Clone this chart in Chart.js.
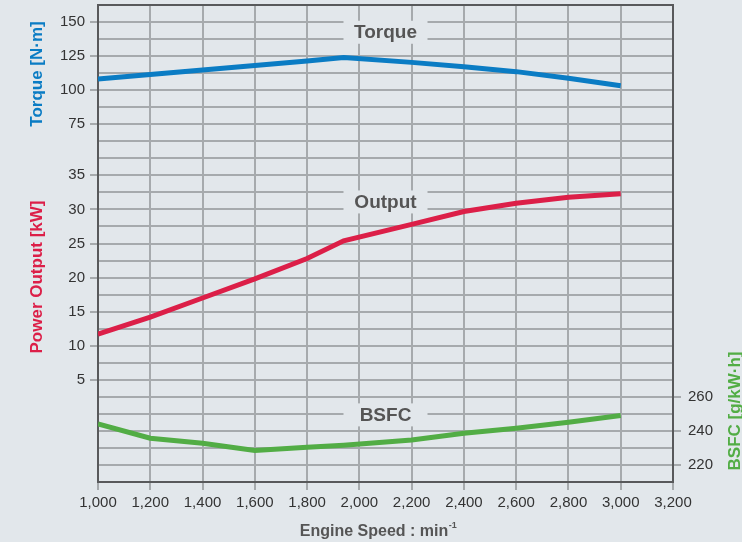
<!DOCTYPE html>
<html>
<head>
<meta charset="utf-8">
<script src="https://cdn.jsdelivr.net/npm/chart.js@4.4.1/dist/chart.umd.min.js"></script>
<style>
  html, body { margin: 0; padding: 0; background: #e2e7eb; }
  canvas { display: block; }
</style>
</head>
<body>
<canvas id="engineChart" width="742" height="542"></canvas>
<script>
// engine speed [min-1]
const speeds = [1000, 1200, 1400, 1600, 1800, 1940, 2200, 2400, 2600, 2800, 3000];
// torque [N·m]
const torque = [108.2, 111.5, 114.8, 118.1, 121.4, 123.9, 120.4, 117.2, 113.6, 108.7, 103.3];
// power output [kW]
const power = [11.7, 14.2, 17.0, 19.8, 22.8, 25.4, 27.8, 29.7, 30.9, 31.8, 32.3];
// BSFC [g/kW·h]
const bsfc = [244.1, 235.7, 232.8, 228.5, 230.4, 231.6, 234.7, 238.6, 241.6, 245.1, 249.0];

const torqueTicks = [150, 125, 100, 75];
const powerTicks = [35, 30, 25, 20, 15, 10, 5];
const bsfcTicks = [260, 240, 220];

// axis ranges, all three share the same 28-row grid
const torqueRange = [-187.5, 162.5];
const powerRange = [-10, 60];
const bsfcRange = [210, 490];

const bg = '#e2e7eb';
const gridColor = '#a6aaad';
const frameColor = '#58595b';
const tickText = '#333333';
const blue = '#0a7cc4', red = '#dc1f48', green = '#52ad45';
const font = '"Liberation Sans", Arial, sans-serif';

// labels sitting on the curves
const tagSpeed = 2100;
const curveTags = [
  { text: 'Torque', axis: 'yT', value: 142.5 },
  { text: 'Output', axis: 'yP', value: 31.1 },
  { text: 'BSFC', axis: 'yB', value: 249.4 }
];

// power value that sits on the same grid row as a torque tick
const torqueToPower = v =>
  powerRange[0] + (v - torqueRange[0]) * (powerRange[1] - powerRange[0]) / (torqueRange[1] - torqueRange[0]);
const near = (a, b) => Math.abs(a - b) < 1e-6;
const leftLabel = v => {
  if (torqueTicks.some(t => near(t, v))) return String(v);
  const p = torqueToPower(v);
  const hit = powerTicks.find(t => near(t, p));
  return hit !== undefined ? String(hit) : '';
};

const zeroPad = s => { s.paddingTop = 0; s.paddingBottom = 0; s.paddingLeft = 0; s.paddingRight = 0; };

const decor = {
  id: 'decor',
  beforeDatasetsDraw(chart) {
    const { ctx, chartArea: a, scales } = chart;
    ctx.save();
    ctx.strokeStyle = frameColor;
    ctx.lineWidth = 2;
    ctx.strokeRect(a.left, a.top, a.right - a.left, a.bottom - a.top);

    ctx.font = 'bold 19px ' + font;
    ctx.textAlign = 'center';
    ctx.textBaseline = 'middle';
    curveTags.forEach(t => {
      const x = scales.x.getPixelForValue(tagSpeed);
      const y = scales[t.axis].getPixelForValue(t.value);
      ctx.fillStyle = bg;
      ctx.fillRect(x - 42, y - 11.5, 84, 23);
      ctx.fillStyle = '#555555';
      ctx.fillText(t.text, x, y + 1);
    });
    ctx.restore();
  },
  afterDraw(chart) {
    const { ctx } = chart;
    ctx.save();
    ctx.font = 'bold 17px ' + font;
    ctx.textAlign = 'center';
    ctx.textBaseline = 'middle';
    const vtitle = (text, x, y, color) => {
      ctx.save();
      ctx.translate(x, y);
      ctx.rotate(-Math.PI / 2);
      ctx.fillStyle = color;
      ctx.fillText(text, 0, 0);
      ctx.restore();
    };
    vtitle('Torque [N·m]', 37, 74, blue);
    vtitle('Power Output [kW]', 37, 277, red);
    vtitle('BSFC [g/kW·h]', 735, 411, green);

    // x title with superscript
    ctx.textAlign = 'left';
    ctx.textBaseline = 'alphabetic';
    ctx.fillStyle = '#555555';
    const main = 'Engine Speed : min';
    ctx.font = 'bold 16px ' + font;
    const w1 = ctx.measureText(main).width;
    ctx.font = 'bold 9px ' + font;
    const w2 = ctx.measureText('-1').width;
    const x0 = 378 - (w1 + w2) / 2;
    ctx.font = 'bold 16px ' + font;
    ctx.fillText(main, x0, 536);
    ctx.font = 'bold 9px ' + font;
    ctx.fillText('-1', x0 + w1 + 0.5, 528);
    ctx.restore();
  }
};

const ctx = document.getElementById('engineChart').getContext('2d');
new Chart(ctx, {
  type: 'line',
  data: {
    datasets: [
      {
        label: 'Torque',
        data: speeds.map((s, i) => ({ x: s, y: torque[i] })),
        yAxisID: 'yT',
        borderColor: blue,
        borderWidth: 5,
        pointRadius: 0,
        tension: 0
      },
      {
        label: 'Output',
        data: speeds.map((s, i) => ({ x: s, y: power[i] })),
        yAxisID: 'yP',
        borderColor: red,
        borderWidth: 5,
        pointRadius: 0,
        tension: 0
      },
      {
        label: 'BSFC',
        data: speeds.map((s, i) => ({ x: s, y: bsfc[i] })),
        yAxisID: 'yB',
        borderColor: green,
        borderWidth: 5,
        pointRadius: 0,
        tension: 0
      }
    ]
  },
  options: {
    responsive: false,
    animation: false,
    layout: { padding: { top: 5, left: 0, right: 0, bottom: 0 } },
    plugins: { legend: { display: false }, tooltip: { enabled: false } },
    scales: {
      x: {
        type: 'linear',
        min: 1000,
        max: 3200,
        ticks: {
          stepSize: 200,
          color: tickText,
          font: { family: font, size: 15 },
          padding: 4,
          maxRotation: 0,
          callback: v => v.toLocaleString('en-US')
        },
        grid: { color: gridColor, lineWidth: 2, tickLength: 8, tickColor: gridColor },
        border: { color: frameColor, width: 2 },
        afterFit: s => { s.height = 60; zeroPad(s); }
      },
      yT: {
        position: 'left',
        min: torqueRange[0],
        max: torqueRange[1],
        ticks: {
          stepSize: 12.5,
          autoSkip: false,
          color: tickText,
          font: { family: font, size: 15 },
          padding: 5,
          callback: v => leftLabel(v)
        },
        grid: {
          color: gridColor,
          lineWidth: 2,
          tickLength: 8,
          tickColor: c => leftLabel(c.tick.value) ? gridColor : 'rgba(0,0,0,0)'
        },
        border: { color: frameColor, width: 2 },
        afterFit: s => { s.width = 98; zeroPad(s); }
      },
      yP: {
        display: false,
        position: 'left',
        min: powerRange[0],
        max: powerRange[1]
      },
      yB: {
        position: 'right',
        min: bsfcRange[0],
        max: bsfcRange[1],
        ticks: {
          stepSize: 10,
          autoSkip: false,
          color: tickText,
          font: { family: font, size: 15 },
          padding: 7,
          callback: v => bsfcTicks.includes(v) ? String(v) : null
        },
        grid: { drawOnChartArea: false, tickLength: 8, tickColor: gridColor, lineWidth: 2 },
        border: { color: frameColor, width: 2 },
        afterFit: s => { s.width = 69; zeroPad(s); }
      }
    }
  },
  plugins: [decor]
});
</script>
</body>
</html>
